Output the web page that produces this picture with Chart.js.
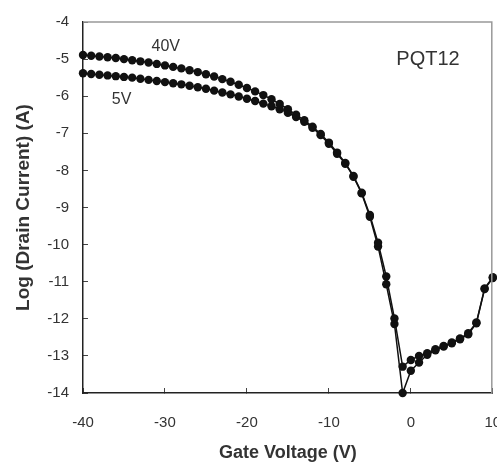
<!DOCTYPE html>
<html>
<head>
<meta charset="utf-8">
<script src="https://cdn.jsdelivr.net/npm/chart.js@4"></script>
<style>
  body { margin: 0; background: #fff; }
  canvas { display: block; }
</style>
</head>
<body>
<canvas id="c1" width="497" height="464"></canvas>
<script>
// gate voltage, 1 V steps
var gateVoltage = [-40, -39, -38, -37, -36, -35, -34, -33, -32, -31,
    -30, -29, -28, -27, -26, -25, -24, -23, -22, -21,
    -20, -19, -18, -17, -16, -15, -14, -13, -12, -11,
    -10, -9, -8, -7, -6, -5, -4, -3, -2, -1,
    0, 1, 2, 3, 4, 5, 6, 7, 8, 9, 10];

// log drain current, Vd = 40V
var drain40 = [-4.89, -4.91, -4.93, -4.95, -4.97, -5.00, -5.03, -5.06, -5.09, -5.13,
    -5.17, -5.21, -5.25, -5.30, -5.35, -5.41, -5.47, -5.54, -5.61, -5.69,
    -5.78, -5.87, -5.97, -6.08, -6.21, -6.35, -6.50, -6.65, -6.82, -7.02,
    -7.25, -7.52, -7.80, -8.15, -8.60, -9.20, -9.95, -10.86, -11.99, -13.29,
    -13.11, -13.00, -12.93, -12.82, -12.73, -12.64, -12.53, -12.39, -12.10, -11.18, -10.88];

// log drain current, Vd = 5V
var drain5 = [-5.38, -5.40, -5.42, -5.44, -5.46, -5.48, -5.50, -5.53, -5.56, -5.59,
    -5.62, -5.65, -5.68, -5.72, -5.76, -5.80, -5.85, -5.90, -5.95, -6.01,
    -6.07, -6.13, -6.20, -6.27, -6.35, -6.45, -6.56, -6.69, -6.85, -7.05,
    -7.28, -7.55, -7.82, -8.17, -8.62, -9.25, -10.05, -11.07, -12.14, -14.00,
    -13.40, -13.18, -12.97, -12.85, -12.75, -12.66, -12.55, -12.42, -12.12, -11.20, -10.90];

// text labels inside the plot: [text, x, y]
var notes = [["40V", -29.9, -4.67], ["5V", -35.3, -6.1], ["PQT12", 2.1, -5.02]];

function points(ys) {
    let out = [];
    for(let i=0; i<gateVoltage.length; i++)
        out.push({x: gateVoltage[i], y: ys[i]});
    return out;
}

var framePlugin = {
    id: 'frame',
    afterDraw(chart) {
        let ctx = chart.ctx;
        let a = chart.chartArea;
        ctx.save();
        ctx.strokeStyle = '#999';
        ctx.lineWidth = 1.5;
        ctx.beginPath();
        ctx.moveTo(a.left, a.top);
        ctx.lineTo(a.right - 1, a.top);
        ctx.lineTo(a.right - 1, a.bottom);
        ctx.stroke();

        ctx.fillStyle = '#333';
        ctx.textBaseline = 'middle';
        ctx.textAlign = 'center';
        for(let i=0; i<notes.length; i++) {
            ctx.font = (notes[i][0] == "PQT12" ? "20px" : "16px") + " 'Liberation Sans', Arial, sans-serif";
            ctx.fillText(notes[i][0], chart.scales.x.getPixelForValue(notes[i][1]),
                chart.scales.y.getPixelForValue(notes[i][2]));
        }
        ctx.restore();
    }
};

function series(label, ys) {
    return {
        label: label,
        data: points(ys),
        borderColor: '#111',
        backgroundColor: '#111',
        borderWidth: 1.5,
        pointRadius: 4.2,
        pointStyle: 'circle',
        pointBorderWidth: 0,
        tension: 0,
        clip: 6
    };
}

Chart.defaults.font.family = "'Liberation Sans', Arial, sans-serif";

var chart1 = new Chart(document.getElementById("c1"), {
    type: 'line',
    data: {
        datasets: [series('40V', drain40), series('5V', drain5)]
    },
    options: {
        responsive: false,
        animation: false,
        devicePixelRatio: 1,
        layout: { padding: { top: 22, right: 1, left: 0, bottom: 0 } },
        plugins: {
            legend: { display: false },
            tooltip: { enabled: false }
        },
        scales: {
            x: {
                type: 'linear',
                min: -40,
                max: 10,
                ticks: { stepSize: 10, color: '#333', font: { size: 15 }, padding: 26, maxRotation: 0 },
                grid: { drawOnChartArea: false, tickLength: -5, color: '#444', lineWidth: 1 },
                border: { color: '#222', width: 1.5 },
                title: { display: true, text: 'Gate Voltage (V)', color: '#333',
                    font: { size: 18, weight: 'bold' }, padding: { top: 0, bottom: 0 } },
                afterFit: (s) => { s.height = 71; s.paddingLeft = 0; s.paddingRight = 0; }
            },
            y: {
                min: -14,
                max: -4,
                ticks: { stepSize: 1, color: '#333', font: { size: 15 }, padding: 19 },
                grid: { drawOnChartArea: false, tickLength: -5, color: '#444', lineWidth: 1 },
                border: { color: '#222', width: 1.5 },
                title: { display: true, text: 'Log (Drain Current) (A)', color: '#333',
                    font: { size: 19, weight: 'bold' }, padding: { top: 12, bottom: 0 } },
                afterFit: (s) => { s.width = 83; s.paddingTop = 0; s.paddingBottom = 0; }
            }
        }
    },
    plugins: [framePlugin]
});
</script>
</body>
</html>
